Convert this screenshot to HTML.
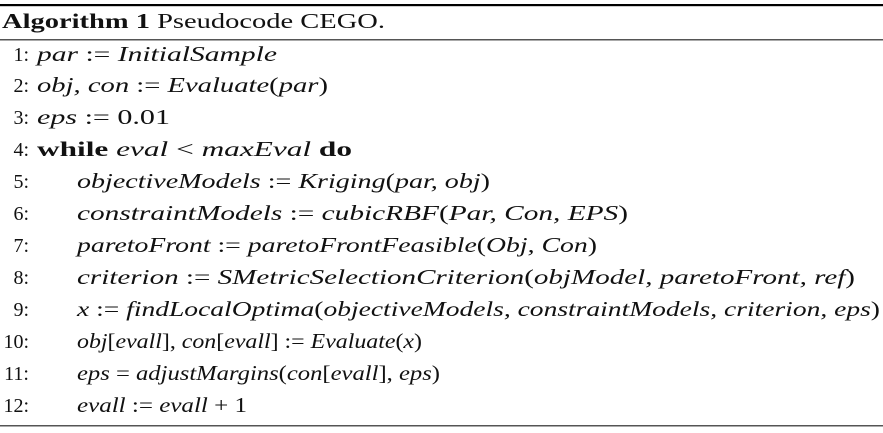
<!DOCTYPE html>
<html><head><meta charset="utf-8"><style>
html,body{margin:0;padding:0;background:#fff;width:883px;height:433px;overflow:hidden}
svg{display:block}
text{font-family:"Liberation Serif",serif;fill:#111}
.i{font-style:italic}.b{font-weight:bold}.n{font-size:20px}
</style></head><body>
<svg width="883" height="433">
<rect x="0" y="4" width="883" height="2.2" fill="#000"/>
<rect x="0" y="39" width="883" height="1.5" fill="#555"/>
<rect x="0" y="425" width="883" height="1.5" fill="#555"/>
<text x="2" y="28" font-size="21" textLength="383" lengthAdjust="spacingAndGlyphs"><tspan class="b">Algorithm 1</tspan> Pseudocode CEGO.</text>
<g font-size="21">
<text class="n" x="29" y="61" text-anchor="end">1:</text>
<text x="37" y="61" textLength="240" lengthAdjust="spacingAndGlyphs"><tspan class="i">par</tspan> := <tspan class="i">InitialSample</tspan></text>
<text class="n" x="29" y="92" text-anchor="end">2:</text>
<text x="37" y="92" textLength="291" lengthAdjust="spacingAndGlyphs"><tspan class="i">obj, con</tspan> := <tspan class="i">Evaluate</tspan>(<tspan class="i">par</tspan>)</text>
<text class="n" x="29" y="124" text-anchor="end">3:</text>
<text x="37" y="124" textLength="133" lengthAdjust="spacingAndGlyphs"><tspan class="i">eps</tspan> := 0.01</text>
<text class="n" x="29" y="156" text-anchor="end">4:</text>
<text x="37" y="156" textLength="315" lengthAdjust="spacingAndGlyphs"><tspan class="b">while</tspan> <tspan class="i">eval</tspan> &lt; <tspan class="i">maxEval</tspan> <tspan class="b">do</tspan></text>
<text class="n" x="29" y="188" text-anchor="end">5:</text>
<text x="77" y="188" textLength="413" lengthAdjust="spacingAndGlyphs"><tspan class="i">objectiveModels</tspan> := <tspan class="i">Kriging</tspan>(<tspan class="i">par, obj</tspan>)</text>
<text class="n" x="29" y="220" text-anchor="end">6:</text>
<text x="77" y="220" textLength="551" lengthAdjust="spacingAndGlyphs"><tspan class="i">constraintModels</tspan> := <tspan class="i">cubicRBF</tspan>(<tspan class="i">Par, Con, EPS</tspan>)</text>
<text class="n" x="29" y="252" text-anchor="end">7:</text>
<text x="77" y="252" textLength="520" lengthAdjust="spacingAndGlyphs"><tspan class="i">paretoFront</tspan> := <tspan class="i">paretoFrontFeasible</tspan>(<tspan class="i">Obj, Con</tspan>)</text>
<text class="n" x="29" y="284" text-anchor="end">8:</text>
<text x="77" y="284" textLength="778" lengthAdjust="spacingAndGlyphs"><tspan class="i">criterion</tspan> := <tspan class="i">SMetricSelectionCriterion</tspan>(<tspan class="i">objModel, paretoFront, ref</tspan>)</text>
<text class="n" x="29" y="316" text-anchor="end">9:</text>
<text x="77" y="316" textLength="803" lengthAdjust="spacingAndGlyphs"><tspan class="i">x</tspan> := <tspan class="i">findLocalOptima</tspan>(<tspan class="i">objectiveModels, constraintModels, criterion, eps</tspan>)</text>
<text class="n" x="29" y="348" text-anchor="end">10:</text>
<text x="77" y="348" textLength="345" lengthAdjust="spacingAndGlyphs"><tspan class="i">obj</tspan>[<tspan class="i">evall</tspan>], <tspan class="i">con</tspan>[<tspan class="i">evall</tspan>] := <tspan class="i">Evaluate</tspan>(<tspan class="i">x</tspan>)</text>
<text class="n" x="29" y="380" text-anchor="end">11:</text>
<text x="77" y="380" textLength="363" lengthAdjust="spacingAndGlyphs"><tspan class="i">eps</tspan> = <tspan class="i">adjustMargins</tspan>(<tspan class="i">con</tspan>[<tspan class="i">evall</tspan>], <tspan class="i">eps</tspan>)</text>
<text class="n" x="29" y="412" text-anchor="end">12:</text>
<text x="77" y="412" textLength="170" lengthAdjust="spacingAndGlyphs"><tspan class="i">evall</tspan> := <tspan class="i">evall</tspan> + 1</text>
</g>
</svg>
</body></html>
